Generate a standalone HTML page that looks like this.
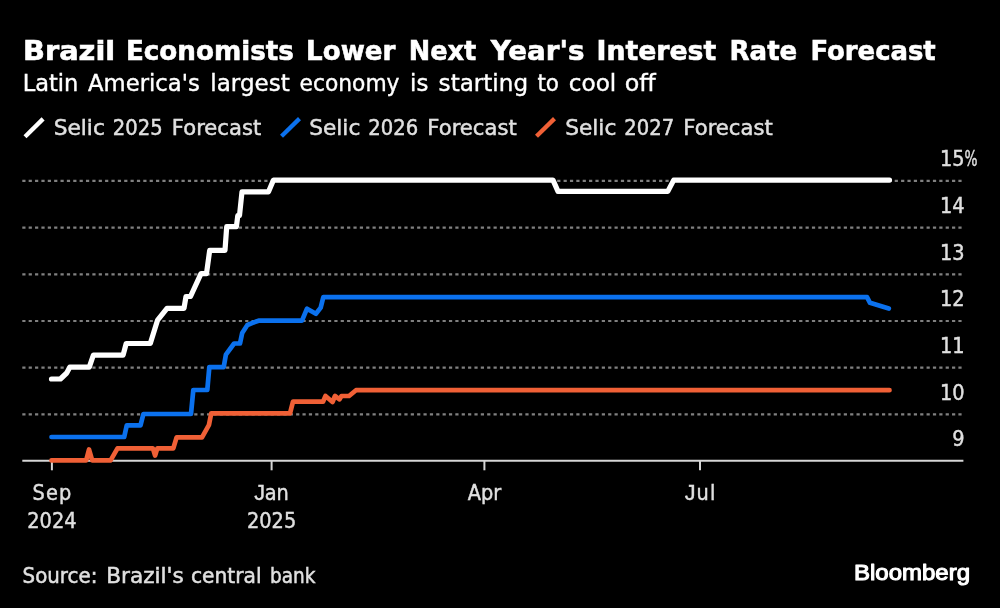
<!DOCTYPE html>
<html>
<head>
<meta charset="utf-8">
<style>
html,body{margin:0;padding:0;background:#000;}
body{width:1000px;height:608px;overflow:hidden;}
svg{display:block;}
text{font-family:"DejaVu Sans",sans-serif;}
</style>
</head>
<body>
<svg width="1000" height="608" viewBox="0 0 1000 608">
<rect width="1000" height="608" fill="#000"/>
<!-- title -->
<text y="59.8" fill="#fff" stroke="#fff" stroke-width="0.6" font-weight="bold" font-size="27.35"><tspan x="22.9" textLength="92.33" lengthAdjust="spacingAndGlyphs">Brazil</tspan> <tspan x="125.97" textLength="167.96" lengthAdjust="spacingAndGlyphs">Economists</tspan> <tspan x="306.08" textLength="89.35" lengthAdjust="spacingAndGlyphs">Lower</tspan> <tspan x="408.71" textLength="67.58" lengthAdjust="spacingAndGlyphs">Next</tspan> <tspan x="490.72" textLength="93.77" lengthAdjust="spacingAndGlyphs">Year's</tspan> <tspan x="596.54" textLength="119.74" lengthAdjust="spacingAndGlyphs">Interest</tspan> <tspan x="729.58" textLength="67.65" lengthAdjust="spacingAndGlyphs">Rate</tspan> <tspan x="810.39" textLength="125.39" lengthAdjust="spacingAndGlyphs">Forecast</tspan></text>
<text y="90.7" fill="#fff" stroke="#fff" stroke-width="0.4" font-size="23.46"><tspan x="22.67" textLength="55.73" lengthAdjust="spacingAndGlyphs">Latin</tspan> <tspan x="88.09" textLength="111.72" lengthAdjust="spacingAndGlyphs">America's</tspan> <tspan x="210.33" textLength="79.46" lengthAdjust="spacingAndGlyphs">largest</tspan> <tspan x="299.56" textLength="99.95" lengthAdjust="spacingAndGlyphs">economy</tspan> <tspan x="410.04" textLength="18.27" lengthAdjust="spacingAndGlyphs">is</tspan> <tspan x="438.61" textLength="89.45" lengthAdjust="spacingAndGlyphs">starting</tspan> <tspan x="537.38" textLength="21.55" lengthAdjust="spacingAndGlyphs">to</tspan> <tspan x="568.81" textLength="47.49" lengthAdjust="spacingAndGlyphs">cool</tspan> <tspan x="624.69" textLength="30.95" lengthAdjust="spacingAndGlyphs">off</tspan></text>
<!-- legend -->
<g stroke-width="4.3">
<line x1="25" y1="136.7" x2="43.1" y2="118.9" stroke="#fff"/>
<line x1="281.5" y1="136.2" x2="299.5" y2="118.6" stroke="#0b71ee"/>
<line x1="536.5" y1="136.2" x2="554.5" y2="118.6" stroke="#f06036"/>
</g>
<g fill="#e0e0e0" stroke="#e0e0e0" stroke-width="0.5" font-size="22">
<text y="135.2"><tspan x="53.76" textLength="51.07" lengthAdjust="spacingAndGlyphs">Selic</tspan> <tspan x="112.83" textLength="49.83" lengthAdjust="spacingAndGlyphs">2025</tspan> <tspan x="171.82" textLength="89.38" lengthAdjust="spacingAndGlyphs">Forecast</tspan></text>
<text y="135.2"><tspan x="309.26" textLength="51.07" lengthAdjust="spacingAndGlyphs">Selic</tspan> <tspan x="368.33" textLength="49.83" lengthAdjust="spacingAndGlyphs">2026</tspan> <tspan x="427.32" textLength="89.38" lengthAdjust="spacingAndGlyphs">Forecast</tspan></text>
<text y="135.2"><tspan x="565.26" textLength="51.07" lengthAdjust="spacingAndGlyphs">Selic</tspan> <tspan x="624.33" textLength="49.83" lengthAdjust="spacingAndGlyphs">2027</tspan> <tspan x="683.32" textLength="89.38" lengthAdjust="spacingAndGlyphs">Forecast</tspan></text>
</g>
<!-- gridlines -->
<g stroke="#808080" stroke-width="2.2" stroke-dasharray="3.2 3.168">
<line x1="22.3" y1="180.9" x2="963.4" y2="180.9"/>
<line x1="22.3" y1="227.6" x2="963.4" y2="227.6"/>
<line x1="22.3" y1="274.3" x2="963.4" y2="274.3"/>
<line x1="22.3" y1="321.0" x2="963.4" y2="321.0"/>
<line x1="22.3" y1="367.7" x2="963.4" y2="367.7"/>
<line x1="22.3" y1="414.4" x2="963.4" y2="414.4"/>
</g>
<!-- baseline + ticks -->
<g stroke="#d6d6d6" stroke-width="2">
<line x1="22.3" y1="460.8" x2="963.4" y2="460.8"/>
<line x1="51.9" y1="460.8" x2="51.9" y2="470.3"/>
<line x1="271.6" y1="460.8" x2="271.6" y2="470.3"/>
<line x1="484.4" y1="460.8" x2="484.4" y2="470.3"/>
<line x1="700" y1="460.8" x2="700" y2="470.3"/>
</g>
<!-- y labels -->
<g fill="#e0e0e0" stroke="#e0e0e0" stroke-width="0.4" font-size="21.5" text-anchor="end" style="font-family:'DejaVu Sans Condensed','DejaVu Sans',sans-serif;font-stretch:condensed">
<text x="964.5" y="166.3">15</text>
<text x="964.6" y="166.3" text-anchor="start" textLength="13" lengthAdjust="spacingAndGlyphs">%</text>
<text x="964.5" y="213">14</text>
<text x="964.5" y="259.7">13</text>
<text x="964.5" y="306.3">12</text>
<text x="964.5" y="353">11</text>
<text x="964.5" y="399.7">10</text>
<text x="964.5" y="446.3">9</text>
</g>
<!-- x labels -->
<g fill="#e0e0e0" stroke="#e0e0e0" stroke-width="0.4" font-size="21.5" text-anchor="middle" style="font-family:'DejaVu Sans Condensed','DejaVu Sans',sans-serif;font-stretch:condensed">
<text x="51.9" y="500" textLength="39">Sep</text>
<text x="51.9" y="528.4">2024</text>
<text x="271.4" y="500" textLength="34.5"><tspan style="font-family:'Liberation Sans',sans-serif">J</tspan>an</text>
<text x="271.6" y="528.4">2025</text>
<text x="484.4" y="500">Apr</text>
<text x="700" y="500" textLength="30.5"><tspan style="font-family:'Liberation Sans',sans-serif">J</tspan>ul</text>
</g>
<!-- lines -->
<g fill="none" stroke-width="4.7" stroke-linejoin="round" stroke-linecap="round">
<polyline stroke="#f06036" points="51.5,460.4 86.2,460.4 89,449.5 92.2,460.4 110.6,460.4 117.5,448.4 152.9,448.4 155.1,455.6 157.3,448.4 173.3,448.4 176.6,437.4 202,437.4 209,424.8 211.2,413.4 290,413.4 293,401.6 323,401.7 325.5,396 332.5,402 335,396 339.5,399.3 341.5,396 349,396 356,390.2 889.5,390.2"/>
<polyline stroke="#0b71ee" points="51.5,437 124.2,437 126.8,425.3 140.5,425.3 143.4,414 191,414 193.3,390 207.3,390 209.3,367.2 223.7,367.2 225.9,354.6 234.1,343.5 240,343.5 242.2,333.1 247.4,325 252.6,322.8 259.3,320.6 302,320.6 307,308.7 315.9,313.8 320.7,307.6 323.3,297.2 867,297.2 870,302.8 888.8,308.6"/>
<polyline stroke="#ffffff" stroke-width="5.2" points="51.5,379 60.4,379 66.7,373 69.9,367.1 89.3,367.1 93.4,355 123.1,355.2 126.2,343.5 150.3,343.5 157.6,320.1 167,308.3 184,308.3 186,296.5 190.5,296.5 201,273.6 206.5,273.6 209.7,250.3 225,250.3 226.7,226.7 236.4,226.7 237.8,215.6 239.5,215.6 242,191.8 268.5,191.8 273.5,180.1 553,180.1 558,191.4 667.8,191.4 673.7,180.1 889.5,180.1"/>
</g>
<!-- footer -->
<text y="582.8" fill="#e0e0e0" stroke="#e0e0e0" stroke-width="0.5" font-size="20.6"><tspan x="22.58" textLength="74.75" lengthAdjust="spacingAndGlyphs">Source:</tspan> <tspan x="106.16" textLength="77.54" lengthAdjust="spacingAndGlyphs">Brazil's</tspan> <tspan x="190.96" textLength="70.68" lengthAdjust="spacingAndGlyphs">central</tspan> <tspan x="269.93" textLength="45.48" lengthAdjust="spacingAndGlyphs">bank</tspan></text>
<text x="854" y="579.6" fill="#fff" stroke="#fff" stroke-width="1.1" stroke-linejoin="round" font-size="22.6" textLength="116" lengthAdjust="spacingAndGlyphs" style="font-family:'Liberation Sans',sans-serif">Bloomberg</text>
</svg>
</body>
</html>
